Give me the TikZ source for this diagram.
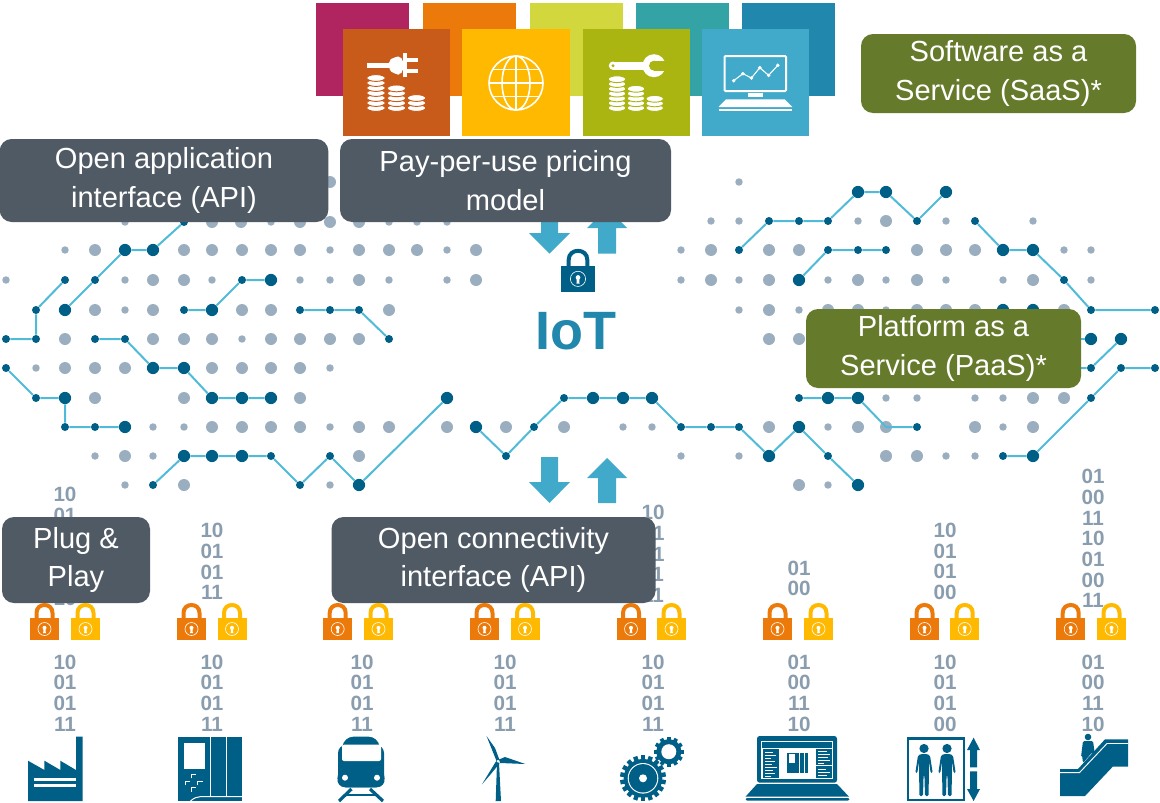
\documentclass[tikz,border=0pt]{standalone}
\usepackage{fontspec}
\setmainfont{Liberation Sans}
\definecolor{dkblue}{HTML}{005F87}
\definecolor{wirec}{HTML}{4FBBD8}
\definecolor{greyd}{HTML}{9BAEBF}
\definecolor{bitc}{HTML}{8A9DAE}
\definecolor{arrowc}{HTML}{41A9C9}
\definecolor{slate}{HTML}{505A64}
\definecolor{olive}{HTML}{667A2C}
\definecolor{lockor}{HTML}{EC7A0A}
\definecolor{lockye}{HTML}{FFB900}
\definecolor{sqA}{HTML}{B0255F}
\definecolor{sqB}{HTML}{EC7A0A}
\definecolor{sqC}{HTML}{D2D73E}
\definecolor{sqD}{HTML}{33A3A5}
\definecolor{sqE}{HTML}{2287AC}
\definecolor{sqF}{HTML}{C85A1A}
\definecolor{sqG}{HTML}{FFB900}
\definecolor{sqH}{HTML}{ABB512}
\definecolor{sqI}{HTML}{41A9C9}
\tikzset{
  sdot/.style={circle,fill=greyd,inner sep=0pt,minimum size=5.6pt},
  ldot/.style={circle,fill=greyd,inner sep=0pt,minimum size=9pt},
  mnode/.style={circle,fill=dkblue,inner sep=0pt,minimum size=6pt},
  bnode/.style={circle,fill=dkblue,inner sep=0pt,minimum size=9.2pt},
  wire/.style={draw=wirec,line width=1.5pt},
  lbox/.style={rounded corners=9pt,fill=slate,text=white,align=center,inner sep=0pt,
    font=\fontsize{21.8}{28.9}\selectfont},
  gbox/.style={lbox,fill=olive},
  bits/.style={text=bitc,align=center,inner sep=0pt,
    font=\fontsize{15.5}{15.5}\selectfont\bfseries},
  bigarrow/.style={fill=arrowc},
  icon/.style={fill=dkblue},
  whiteline/.style={draw=white,line width=.75pt},
}
\newcommand\lockicon[4]{%
  \begin{scope}[shift={(#1,#2)},scale=#3]
    \fill[#4] (-14.5,0) rectangle (14.5,22);
    \draw[#4,line width=3pt] (-8,1) -- (-8,-5) .. controls (-8,-10.5) and (-4,-13) .. (0,-13)
      .. controls (4,-13) and (8,-10.5) .. (8,-5) -- (8,1);
    \draw[white,line width=.45pt] (0,11) circle (6.5);
    \fill[white] (0,9.8) circle (2);
    \fill[white] (-1,10) -- (1,10) -- (1.3,15) -- (-1.3,15) -- cycle;
  \end{scope}}
\newcommand\coinstack[6]{%
  \foreach \i in {1,...,#3}{
    \filldraw[fill=white,draw=#4,line width=.7pt] (#1,{#2-(\i-1)*#6}) ellipse [x radius=#5,y radius=3.4];
  }}
\newcommand\gearicon[5]{%
  \foreach \a in {1,...,#4}{
    \fill[icon,rotate around={\a*360/#4:(#1,#2)}] ({#1-#5},{#2-#3}) rectangle ({#1+#5},#2);
  }
  \fill[icon] (#1,#2) circle ({#3*.84});
  }
\newcommand\person[2]{%
  \begin{scope}[shift={(#1,#2)}]
    \fill[icon] (0,-5.5) circle (4.6);
    \fill[icon,rounded corners=1pt] (-6,1.5) -- (-8.7,19) -- (-6.7,19) -- (-5,8) -- (-4.6,42) -- (-1,42)
      -- (-.4,21) -- (.4,21) -- (1,42) -- (4.6,42) -- (5,8) -- (6.7,19) -- (8.7,19) -- (6,1.5) -- (3,0) -- (-3,0) -- cycle;
  \end{scope}}
\begin{document}
\begin{tikzpicture}[x=.75pt,y=-.75pt]
\useasboundingbox (0,0) rectangle (1160,803);

%% -------- back squares
\fill[sqA] (316,3) rectangle (409,96);
\fill[sqB] (423,3) rectangle (516,96);
\fill[sqC] (530,3) rectangle (623,96);
\fill[sqD] (636,3) rectangle (729,96);
\fill[sqE] (742,3) rectangle (835,96);
%% -------- front squares
\fill[sqF] (343,29) rectangle (450,136);
\fill[sqG] (462,29) rectangle (570,136);
\fill[sqH] (583,29) rectangle (690,136);
\fill[sqI] (702,29) rectangle (809,136);

%% plug and coins
\fill[white] (367,63) rectangle (390,67.5);
\fill[white,rounded corners=4pt] (403,56.5) -- (394,56.5) -- (388,62) -- (388,68) -- (394,74.5) -- (403,74.5) -- cycle;
\fill[white] (403,53) rectangle (407,77);
\fill[white] (407,58) rectangle (418,62);
\fill[white] (407,69) rectangle (418,72.5);
\coinstack{376}{108}{7}{sqF}{9.2}{5}
\coinstack{396.5}{108}{5}{sqF}{9.2}{4.9}
\coinstack{416.5}{108}{3}{sqF}{9.2}{5}

%% globe
\begin{scope}[white,line width=1.2pt]
  \draw (516,83) circle (27);
  \draw (516,83) ellipse [x radius=14,y radius=27];
  \draw (516,56) -- (516,110);
  \draw (489,83) -- (543,83);
  \draw (493,69.5) -- (539,69.5);
  \draw (493,96.5) -- (539,96.5);
\end{scope}

%% wrench and coins
\fill[white] (613,61.5) rectangle (648,69.8);
\fill[white] (613,65.7) circle (4.2);
\fill[sqH] (613,65.7) circle (1.6);
\fill[white] (654,65.7) circle (11.5);
\fill[sqH] (654,65.7) circle (5);
\fill[sqH] (654,60.5) rectangle (668,71);
\coinstack{617}{108}{7}{sqH}{8.8}{4.8}
\coinstack{636}{108}{5}{sqH}{8.8}{4.8}
\coinstack{654.7}{108}{3}{sqH}{8.8}{4.6}

%% monitor
\draw[white,line width=1.5pt,rounded corners=.8pt] (724.5,56) rectangle (786,91);
\fill[white] (748,93) rectangle (763,97.3);
\fill[white] (726,99.3) -- (784.6,99.3) -- (792.4,107) -- (718.5,107) -- cycle;
\fill[white] (718.5,108.5) rectangle (792.4,110.6);
\draw[white,line width=.8pt] (733.7,80.7) -- (742.9,73.7) -- (751.4,78) -- (759.8,67.7) -- (768.6,75.3) -- (777.8,65.3);
\foreach \p in {(733.7,80.7),(742.9,73.7),(751.4,78),(759.8,67.7),(768.6,75.3),(777.8,65.3)}{\fill[white] \p circle (1.9);}

%% -------- grey dot field
\node[ldot] (gtop) at (330,182) {};
\node[sdot] (gtopr) at (739,182) {};
\foreach \x in {125,271,389,417,447}{\node[sdot] (gA\x) at (\x,222) {};}
\foreach \x in {212,241,300,330,359}{\node[ldot] (gA\x) at (\x,222) {};}
\foreach \x in {711,739,858,946,1033}{\node[sdot] (gB\x) at (\x,221) {};}
\node[ldot] (gB886) at (886,221) {};
\foreach \x in {65,330,447,681,1064,1091}{\node[sdot] (gC\x) at (\x,250) {};}
\foreach \x in {95,184,212,242,271,300,359,389,417,476,711,769,799,917,946,975}{\node[ldot] (gC\x) at (\x,250) {};}
\foreach \x in {6,125,212,300,330,389,447,681,739,828,886,946,1003,1091}{\node[sdot] (gD\x) at (\x,280) {};}
\foreach \x in {153,184,359,476,711,769,858,917,1033}{\node[ldot] (gD\x) at (\x,280) {};}
\foreach \x in {125,739,799,886}{\node[sdot] (gE\x) at (\x,310) {};}
\foreach \x in {95,153,242,271,389,769,828,858,917,946,975,1064}{\node[ldot] (gE\x) at (\x,310) {};}
\node[sdot] (gF242) at (242,339) {};
\foreach \x in {65,153,184,212,271,300,330,359,769,799}{\node[ldot] (gF\x) at (\x,339) {};}
\foreach \x in {36,330}{\node[sdot] (gG\x) at (\x,368) {};}
\foreach \x in {65,95,125,212,242,271,300}{\node[ldot] (gG\x) at (\x,368) {};}
\foreach \x in {886,917,975,1003}{\node[sdot] (gH\x) at (\x,398) {};}
\foreach \x in {95,184,300,1033,1064}{\node[ldot] (gH\x) at (\x,398) {};}
\foreach \x in {153,184,330,623,652,828,1003}{\node[sdot] (gI\x) at (\x,427) {};}
\foreach \x in {212,242,271,300,359,389,447,506,564,769,858,886,975,1033}{\node[ldot] (gI\x) at (\x,427) {};}
\foreach \x in {95,153,681,739,946,975}{\node[sdot] (gJ\x) at (\x,456) {};}
\foreach \x in {125,359,886,917}{\node[ldot] (gJ\x) at (\x,456) {};}
\foreach \x in {125,330,828}{\node[sdot] (gK\x) at (\x,485) {};}
\foreach \x in {184,799}{\node[ldot] (gK\x) at (\x,485) {};}

%% -------- traces, left
\node[mnode] (a1) at (6,339) {};
\node[mnode] (a2) at (36,339) {};
\node[mnode] (a3) at (36,310) {};
\node[mnode] (a4) at (65,280) {};
\draw[wire] (a1) -- (a2) -- (a3) -- (a4);

\node[bnode] (b1) at (65,310) {};
\node[mnode] (b2) at (95,280) {};
\node[bnode] (b3) at (125,250) {};
\node[bnode] (b4) at (153,250) {};
\node[mnode] (b5) at (184,222) {};
\draw[wire] (b1) -- (b2) -- (b3) -- (b4) -- (b5);

\node[mnode] (c1) at (184,310) {};
\node[bnode] (c2) at (212,310) {};
\node[mnode] (c3) at (242,280) {};
\node[bnode] (c4) at (271,280) {};
\draw[wire] (c1) -- (c2) -- (c3) -- (c4);

\node[mnode] (d1) at (300,310) {};
\node[mnode] (d2) at (330,310) {};
\node[mnode] (d3) at (359,310) {};
\node[mnode] (d4) at (389,339) {};
\draw[wire] (d1) -- (d2) -- (d3) -- (d4);

\node[mnode] (e1) at (95,339) {};
\node[mnode] (e2) at (125,339) {};
\node[bnode] (e3) at (153,368) {};
\node[bnode] (e4) at (184,368) {};
\node[bnode] (e5) at (212,398) {};
\node[bnode] (e6) at (242,398) {};
\node[bnode] (e7) at (271,398) {};
\draw[wire] (e1) -- (e2) -- (e3) -- (e4) -- (e5) -- (e6) -- (e7);

\node[mnode] (f1) at (6,368) {};
\node[mnode] (f2) at (36,398) {};
\node[bnode] (f3) at (65,398) {};
\node[mnode] (f4) at (65,427) {};
\node[mnode] (f5) at (95,427) {};
\node[bnode] (f6) at (125,427) {};
\draw[wire] (f1) -- (f2) -- (f3) -- (f4) -- (f5) -- (f6);

\node[mnode] (h1) at (153,485) {};
\node[bnode] (h2) at (184,456) {};
\node[bnode] (h3) at (212,456) {};
\node[bnode] (h4) at (242,456) {};
\node[mnode] (h5) at (271,456) {};
\node[mnode] (h6) at (300,485) {};
\node[mnode] (h7) at (330,456) {};
\node[bnode] (h8) at (359,485) {};
\node[bnode] (h9) at (447,398) {};
\draw[wire] (h1) -- (h2) -- (h3) -- (h4) -- (h5) -- (h6) -- (h7) -- (h8) -- (h9);

%% -------- traces, right
\node[mnode] (k1) at (739,250) {};
\node[mnode] (k2) at (769,221) {};
\node[mnode] (k3) at (799,221) {};
\node[mnode] (k4) at (828,221) {};
\node[bnode] (k5) at (858,192) {};
\node[bnode] (k6) at (886,192) {};
\node[mnode] (k7) at (917,221) {};
\node[bnode] (k8) at (946,192) {};
\draw[wire] (k1) -- (k2) -- (k3) -- (k4) -- (k5) -- (k6) -- (k7) -- (k8);

\node[bnode] (l1) at (799,280) {};
\node[mnode] (l2) at (828,250) {};
\node[mnode] (l3) at (858,250) {};
\node[mnode] (l4) at (886,250) {};
\draw[wire] (l1) -- (l2) -- (l3) -- (l4);

\node[mnode] (m1) at (975,221) {};
\node[bnode] (m2) at (1003,250) {};
\node[bnode] (m3) at (1033,250) {};
\node[mnode] (m4) at (1064,280) {};
\node[mnode] (m5) at (1091,310) {};
\node[mnode] (m6) at (1155,310) {};
\draw[wire] (m1) -- (m2) -- (m3) -- (m4) -- (m5) -- (m6);

\node[bnode] (n1) at (476,427) {};
\node[mnode] (n2) at (506,456) {};
\node[mnode] (n3) at (534,427) {};
\node[mnode] (n4) at (564,398) {};
\node[bnode] (n5) at (593,398) {};
\node[bnode] (n6) at (623,398) {};
\node[bnode] (n7) at (652,398) {};
\node[mnode] (n8) at (681,427) {};
\node[mnode] (n9) at (711,427) {};
\node[mnode] (n10) at (739,427) {};
\node[bnode] (n11) at (769,456) {};
\node[bnode] (n12) at (799,427) {};
\node[mnode] (n13) at (828,456) {};
\node[bnode] (n14) at (858,485) {};
\draw[wire] (n1) -- (n2) -- (n3) -- (n4) -- (n5) -- (n6) -- (n7) -- (n8) -- (n9) -- (n10) -- (n11) -- (n12) -- (n13) -- (n14);

\node[mnode] (o1) at (799,398) {};
\node[bnode] (o2) at (828,398) {};
\node[bnode] (o3) at (858,398) {};
\coordinate (o4) at (886,427);
\node[mnode] (o5) at (917,427) {};
\draw[wire] (o1) -- (o2) -- (o3) -- (o4) -- (o5);

\node[bnode] (p1) at (1003,310) {};
\node[bnode] (p2) at (1033,310) {};
\coordinate (p3) at (1060,339);
\node[bnode] (p4) at (1091,339) {};
\draw[wire] (p3) -- (p4);
\coordinate (q1) at (1060,368);
\node[mnode] (q2) at (1091,368) {};
\node[bnode] (q3) at (1121,339) {};
\draw[wire] (q1) -- (q2) -- (q3);

\node[mnode] (r1) at (1003,456) {};
\node[bnode] (r2) at (1033,456) {};
\node[mnode] (r3) at (1091,398) {};
\node[mnode] (r4) at (1121,368) {};
\node[mnode] (r5) at (1155,368) {};
\draw[wire] (r1) -- (r2) -- (r3) -- (r4) -- (r5);

%% -------- arrows
\fill[bigarrow] (541,215) -- (558,215) -- (558,233) -- (570,233) -- (549.5,253.7) -- (529,233) -- (541,233) -- cycle;
\fill[bigarrow] (598,253.7) -- (616,253.7) -- (616,228) -- (627,228) -- (607,208) -- (587,228) -- (598,228) -- cycle;
\fill[bigarrow] (541,457) -- (558,457) -- (558,482) -- (570,482) -- (549.5,503) -- (529,482) -- (541,482) -- cycle;
\fill[bigarrow] (598,503) -- (616,503) -- (616,478) -- (627,478) -- (607,458) -- (587,478) -- (598,478) -- cycle;

%% -------- centre lock and IoT
\lockicon{578}{266}{1.17}{dkblue}
\node[anchor=base,inner sep=0pt,text=sqE,font=\fontsize{40.5}{40.5}\selectfont\bfseries] (iot) at (575.5,349) {IoT};

%% -------- binary columns
\node[bits] (u1) at (65,546.5) {10\\01\\01\\11\\01\\10};
\node[bits] (u2) at (212,561.5) {10\\01\\01\\11};
\node[bits] (u5) at (653,554) {10\\01\\01\\11\\11};
\node[bits] (u6) at (799,578.5) {01\\00};
\node[bits] (u7) at (945,561.5) {10\\01\\01\\00};
\node[bits] (u8) at (1093,538.5) {01\\00\\11\\10\\01\\00\\11};
\node[bits] (v1) at (65,693) {10\\01\\01\\11};
\node[bits] (v2) at (212,693) {10\\01\\01\\11};
\node[bits] (v3) at (362,693) {10\\01\\01\\11};
\node[bits] (v4) at (505,693) {10\\01\\01\\11};
\node[bits] (v5) at (653,693) {10\\01\\01\\11};
\node[bits] (v6) at (799,693) {01\\00\\11\\10};
\node[bits] (v7) at (945,693) {10\\01\\01\\00};
\node[bits] (v8) at (1093,693) {01\\00\\11\\10};

%% -------- labels
\node[lbox,minimum width=246.5pt,minimum height=62.25pt] (lapi) at (164,180.5) {Open application\\interface (API)};
\node[lbox,minimum width=248.25pt,minimum height=62.25pt] (lpay) at (505.5,180.5) {Pay-per-use pricing\\model};
\node[lbox,minimum width=111pt,minimum height=64.5pt] (lplug) at (76,560) {Plug \&\\Play};
\node[lbox,minimum width=243pt,minimum height=64.5pt] (lconn) at (493.5,560) {Open connectivity\\interface (API)};
\node[gbox,minimum width=206.25pt,minimum height=59.25pt] (lsaas) at (998.5,73.5) {Software as a\\Service (SaaS)*};
\node[gbox,minimum width=206.25pt,minimum height=59.25pt] (lpaas) at (943.5,348.5) {Platform as a\\Service (PaaS)*};

%% -------- locks
\foreach \x in {44.5,191.5,337.7,484.5,631,777.5,924.5,1070.7}{\lockicon{\x}{618}{1}{lockor}}
\foreach \x in {85.5,232,378.5,525,671.5,818.5,964.7,1111.5}{\lockicon{\x}{618}{1}{lockye}}

%% -------- factory
\fill[icon] (28,760.7) -- (44.4,770) -- (44.4,760.7) -- (60.3,770) -- (60.3,760.7) -- (76,770) -- (76,736.7) -- (82.5,736.7) -- (82.5,801) -- (28,801) -- cycle;
\fill[white] (34.4,777.7) rectangle (76,781);
\fill[white] (34.4,784) rectangle (76,787.3);

%% -------- cabinet
\fill[icon] (178,736.7) rectangle (242.3,801);
\fill[white] (183.5,742.7) rectangle (205,768.7);
\draw[whiteline] (210.5,736.7) -- (210.5,796.7);
\draw[whiteline] (226.4,736.7) -- (226.4,796.7);
\draw[whiteline] (190.5,801) .. controls (194,798) and (197,796.7) .. (200,796.7) -- (242.3,796.7);
\begin{scope}[draw=white,line width=.6pt]
  \draw (191.3,778.3) -- (191.3,774.3) -- (196.4,774.3);
  \draw (185,785.3) -- (185,781.3) -- (190,781.3);
  \draw (197.6,785.3) -- (197.6,781.3) -- (202.7,781.3);
  \draw (191.3,791.7) -- (191.3,787.7) -- (196.4,787.7);
\end{scope}

%% -------- train
\fill[icon,rounded corners=7pt] (344,736.7) -- (378,736.7) -- (386,787.3) -- (336,787.3) -- cycle;
\fill[icon,rounded corners=6pt] (338,745) rectangle (384,787.3);
\fill[white,rounded corners=1.5pt] (342,744.7) rectangle (381,761);
\fill[white] (345,777.7) circle (3);
\fill[white] (377,777.7) circle (3);
\draw[dkblue,line width=2.4pt] (351.5,789) -- (339,801);
\draw[dkblue,line width=2.4pt] (370,789) -- (383,801);
\draw[dkblue,line width=2pt] (344,795) -- (378,795);

%% -------- wind turbine
\fill[icon] (497,763) -- (499,763) -- (501,801) -- (495.7,801) -- cycle;
\fill[icon] (496.5,761) -- (486.5,736) -- (495,748) -- (499.5,760) -- cycle;
\fill[icon] (499,759.5) -- (505,757) -- (525.3,764) -- (500,763) -- cycle;
\fill[icon] (496.5,760.5) -- (499.5,763.5) -- (490,775) -- (482,784.3) -- cycle;
\fill[white] (498,761.3) circle (1.4);

%% -------- gears
\gearicon{643}{778.3}{23}{18}{2.2}
\fill[white] (643,778.3) circle (15.3);
\fill[icon] (643,778.3) circle (14.2);
\fill[white] (643,778.3) circle (4);
\gearicon{668.8}{751.7}{15}{12}{1.9}
\fill[white] (668.8,751.7) circle (7.5);

%% -------- laptop
\fill[icon,rounded corners=2pt] (757,736) rectangle (837,782.7);
\fill[white] (761,741) rectangle (833.4,779);
\fill[icon] (762,742) rectangle (832.4,748);
\fill[icon] (762.5,749) rectangle (779,778);
\fill[icon] (816,749) rectangle (832,778);
\draw[white,line width=.5pt] (816,765) -- (832,765);
\fill[icon] (787,752.5) rectangle (808,772.7);
\fill[white] (788.5,754) rectangle (795,763);
\draw[white,line width=.4pt] (799,752.5) -- (799,772.7);
\draw[white,line width=.4pt] (804,752.5) -- (804,772.7);
\foreach \y/\w in {752/8,755/11,758/6,761/10,764/7,767/12,770/8,773/10,776/6}{\draw[white,line width=.7pt] (765,\y) -- ({765+\w},\y);}
\foreach \y/\w in {751.5/9,754/12,757/10,760/12,763/6,769/8,772/12,775/9}{\draw[white,line width=.7pt] (818,\y) -- ({818+\w},\y);}
\fill[icon] (757,784) -- (837,784) -- (849,796.7) -- (745.5,796.7) -- cycle;
\fill[icon,rounded corners=1pt] (745.5,798) rectangle (849.5,800.5);

%% -------- elevator
\draw[dkblue,line width=1.9pt] (908,738.4) rectangle (964,800.2);
\person{924}{754}
\person{947}{754}
\fill[icon] (973.6,737.7) -- (980,750) -- (977,750) -- (977,767.3) -- (970,767.3) -- (970,750) -- (967,750) -- cycle;
\fill[icon] (973.6,801) -- (980,789) -- (977,789) -- (977,771.3) -- (970,771.3) -- (970,789) -- (967,789) -- cycle;

%% -------- escalator
\fill[icon] (1060,769) -- (1078,769) -- (1105,739.3) -- (1128,739.3) -- (1128,766.7) -- (1112.7,766.7) -- (1085,796) -- (1060,796) -- cycle;
\draw[white,line width=.7pt] (1060,772.6) -- (1079.5,772.6) -- (1107,743.5) -- (1128,743.5);
\fill[icon] (1088,737) circle (3.3);
\fill[icon,rounded corners=1pt] (1083,741) -- (1093,741) -- (1095,755) -- (1092,752.5) -- (1083,763) -- (1082,755) -- (1081,757) -- cycle;
\end{tikzpicture}
\end{document}
